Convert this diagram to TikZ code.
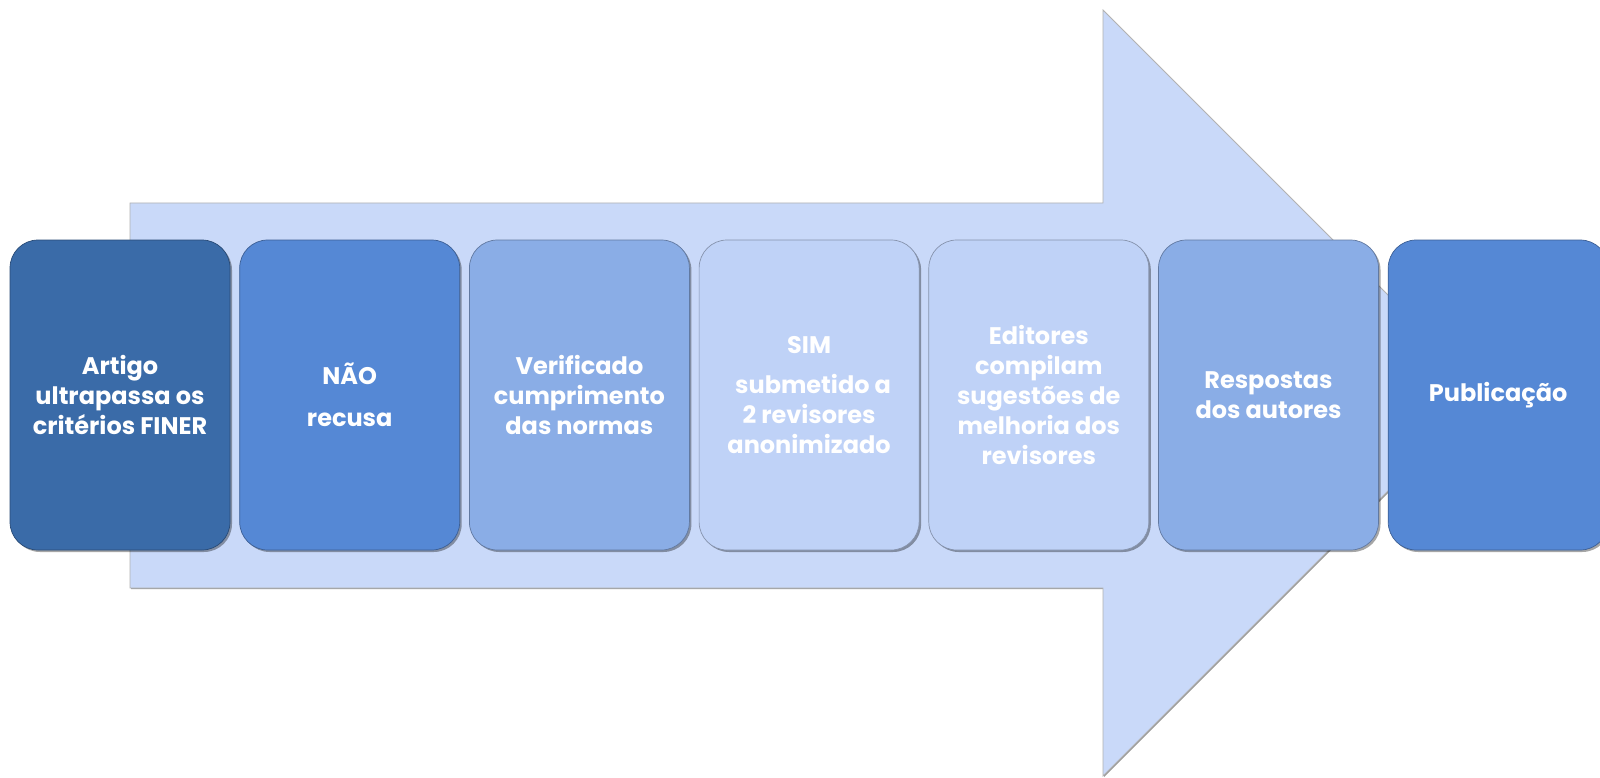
\documentclass[tikz,border=0pt]{standalone}
\usepackage{fontspec}
\setmainfont{Poppins}
\usetikzlibrary{shadows}
\definecolor{cA}{HTML}{3A6BA8}
\definecolor{cB}{HTML}{5588D5}
\definecolor{cC}{HTML}{8AADE6}
\definecolor{cD}{HTML}{BFD2F7}
\definecolor{arrowfill}{HTML}{C9D9F9}
\tikzset{
  stepbox/.style={rounded corners=28pt, minimum width=220pt, minimum height=310pt,
    inner sep=0pt, align=center, text=white,
    font=\bfseries\fontsize{24}{30}\selectfont,
    draw=#1!70!black, line width=0.7pt, fill=#1,
    drop shadow={shadow xshift=2pt, shadow yshift=-2pt, opacity=0.35, fill=black}},
  bigarrow/.style={fill=arrowfill, draw=gray!60, line width=0.8pt,
    drop shadow={shadow xshift=1pt, shadow yshift=-1pt, opacity=0.4, fill=black}}
}
\begin{document}
\begin{tikzpicture}[x=1pt,y=-1pt]
\useasboundingbox (0,0) rectangle (1600,778);
\clip (0,0) rectangle (1600,778);
\fill[white] (0,0) rectangle (1600,778);
\path[bigarrow] (130,203) -- (1103,203) -- (1103,10) -- (1486,393) -- (1103,776) -- (1103,588) -- (130,588) -- cycle;
\node[stepbox=cA] (b1) at (120,395) {Artigo\\ultrapassa os\\critérios FINER};
\node[stepbox=cB] (b2) at (349.7,395) {NÃO\\[12pt]recusa};
\node[stepbox=cC] (b3) at (579.4,395) {Verificado\\cumprimento\\das normas};
\node[stepbox=cD] (b4) at (809.1,395) {SIM\\[10pt]\hspace{8pt}submetido a\\2 revisores\\anonimizado};
\node[stepbox=cD] (b5) at (1038.8,395) {Editores\\compilam\\sugestões de\\melhoria dos\\revisores};
\node[stepbox=cC] (b6) at (1268.5,395) {Respostas\\dos autores};
\node[stepbox=cB] (b7) at (1498.2,395) {Publicação};
\end{tikzpicture}
\end{document}
